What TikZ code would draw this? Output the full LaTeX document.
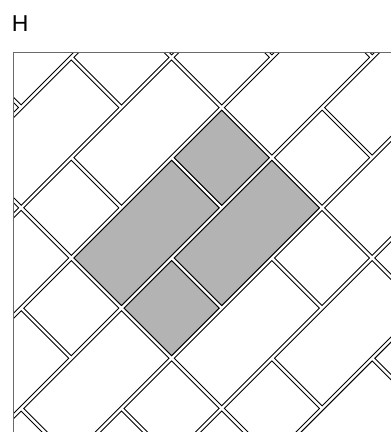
\documentclass[tikz,border=0pt]{standalone}
\usepackage{fontspec}
\setmainfont{Liberation Sans}
\definecolor{tilegray}{HTML}{B3B3B3}
\definecolor{framecol}{HTML}{6A6A6A}
\tikzset{
  tileline/.style={draw=black, line width=0.9pt, line join=miter},
  graytile/.style={tileline, fill=tilegray},
  framestyle/.style={draw=framecol, line width=1.3pt},
  labelstyle/.style={anchor=base west, inner sep=0pt, font=\fontsize{23}{23}\selectfont}
}
\def\gp{0.026}
\begin{document}
\begin{tikzpicture}[x=1pt,y=1pt]
\useasboundingbox (0,0) rectangle (391,-432);
\node[labelstyle] (lbl) at (11.6,-31.5) {H};
\begin{scope}
  \clip (13.3,-52.3) rectangle (391,-432);
  \begin{scope}[shift={(71.3pt,-258pt)}, x={(50.15pt,50.15pt)}, y={(50.15pt,-50.15pt)}]
    \foreach \row in {-4,...,5}{
      \pgfmathtruncatemacro\kk{mod(\row+10,2)}
      \foreach \mm in {-3,...,3}{
        \pgfmathsetmacro\aa{\kk+3*\mm}
        \draw[tileline] (\aa+\gp,\row+\gp) -- (\aa+2-\gp,\row+\gp) -- (\aa+2-\gp,\row+1-\gp) -- (\aa+\gp,\row+1-\gp) -- cycle;
        \draw[tileline] (\aa+2+\gp,\row+\gp) -- (\aa+3-\gp,\row+\gp) -- (\aa+3-\gp,\row+1-\gp) -- (\aa+2+\gp,\row+1-\gp) -- cycle;
      }
    }
    % highlighted unit
    \path[graytile] (0+\gp,0+\gp) -- (2-\gp,0+\gp) -- (2-\gp,1-\gp) -- (0+\gp,1-\gp) -- cycle;
    \path[graytile] (2+\gp,0+\gp) -- (3-\gp,0+\gp) -- (3-\gp,1-\gp) -- (2+\gp,1-\gp) -- cycle;
    \path[graytile] (1+\gp,1+\gp) -- (3-\gp,1+\gp) -- (3-\gp,2-\gp) -- (1+\gp,2-\gp) -- cycle;
    \path[graytile] (0+\gp,1+\gp) -- (1-\gp,1+\gp) -- (1-\gp,2-\gp) -- (0+\gp,2-\gp) -- cycle;
  \end{scope}
\end{scope}
\draw[framestyle] (13.3,-432) -- (13.3,-52.3) -- (391,-52.3);
\end{tikzpicture}
\end{document}
